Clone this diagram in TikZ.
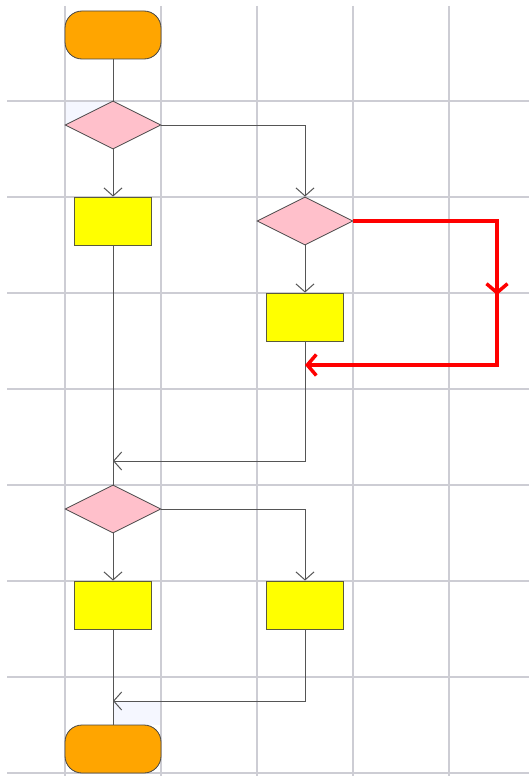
\documentclass[tikz,border=0pt]{standalone}
\usetikzlibrary{arrows.meta,shapes.geometric}
\definecolor{gridgray}{RGB}{205,205,212}
\definecolor{edgegray}{RGB}{70,70,70}
\definecolor{linkgray}{RGB}{85,85,85}
\definecolor{boxedge}{RGB}{90,90,60}
\definecolor{termfill}{RGB}{255,165,0}
\definecolor{decfill}{RGB}{255,192,203}
\definecolor{procfill}{RGB}{255,255,0}
\definecolor{hotred}{RGB}{255,0,0}
\definecolor{lanetint}{RGB}{245,247,255}
\begin{document}
\begin{tikzpicture}[x=1pt,y=-1pt,
  gridline/.style={draw=gridgray,line width=1.3pt},
  terminal/.style={draw=edgegray,fill=termfill,rounded corners=17pt,minimum width=96pt,minimum height=48pt,inner sep=0pt,line width=0.8pt},
  decision/.style={diamond,draw=edgegray,fill=decfill,aspect=2,minimum width=96pt,minimum height=48pt,inner sep=0pt,line width=0.8pt},
  process/.style={rectangle,draw=boxedge,fill=procfill,minimum width=77pt,minimum height=48pt,inner sep=0pt,line width=0.8pt},
  flow/.style={draw=linkgray,line width=1pt},
  flowtip/.style={-{Straight Barb[length=8pt,width=18pt,line width=1pt]}},
  hotflow/.style={draw=hotred,line width=3.5pt},
  hottip/.style={-{Straight Barb[length=9pt,width=21pt,line width=3.5pt]}},
]
\useasboundingbox (0,0) rectangle (529,776);
\fill[white] (0,0) rectangle (529,776);
% faint lane tints
\fill[lanetint] (65,101) rectangle (113,125);
\fill[lanetint] (113,701) rectangle (161,725);
% grid
\foreach \gx in {65,161,257,353,449} \draw[gridline] (\gx,6) -- (\gx,776);
\foreach \gy in {101,197,293,389,485,581,677,773} \draw[gridline] (7,\gy) -- (529,\gy);

% nodes
\node[terminal] (start) at (113,35) {};
\node[decision] (d1) at (113,125) {};
\node[process] (pa) at (113,221) {};
\node[decision] (d2) at (305,221) {};
\node[process] (pb) at (305,317) {};
\node[decision] (d3) at (113,509) {};
\node[process] (pc) at (113,605) {};
\node[process] (pd) at (305,605) {};
\node[terminal] (stop) at (113,749) {};

\coordinate (j1) at (113,461);
\coordinate (j2) at (113,701);
\coordinate (r1) at (497,221);
\coordinate (r2) at (497,365);
\coordinate (rm) at (497,295);
\coordinate (rj) at (305,365);

% connectors
\draw[flow] (start) -- (d1.north);
\draw[flow,flowtip] (d1.south) -- (pa.north);
\draw[flow,flowtip] (d1.east) -| (d2.north);
\draw[flow,flowtip] (d2.south) -- (pb.north);
\draw[flow] (pa.south) -- (d3.north);
\draw[flow,flowtip] (pb.south) |- (j1);
\draw[flow,flowtip] (d3.south) -- (pc.north);
\draw[flow,flowtip] (d3.east) -| (pd.north);
\draw[flow] (pc.south) -- (stop.north);
\draw[flow,flowtip] (pd.south) |- (j2);

% highlighted loop
\draw[hotflow,line join=miter,hottip] (d2.east) -- (r1) -- (r2) -- (rj);
\draw[hotflow,hottip] (r1) -- (rm);
\end{tikzpicture}
\end{document}
